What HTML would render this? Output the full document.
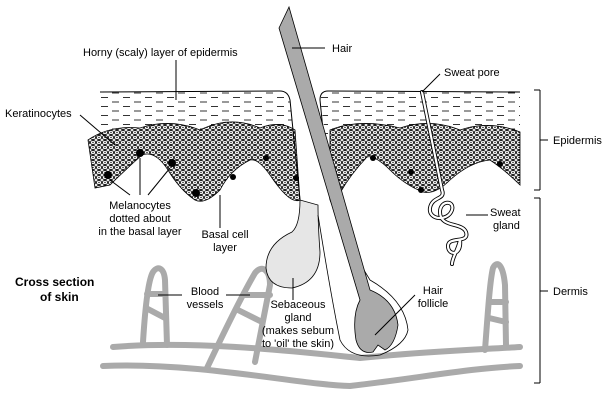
<!DOCTYPE html>
<html><head><style>
html,body{margin:0;padding:0;background:#fff}
svg{display:block}
text{font-family:"Liberation Sans",sans-serif;font-size:11px;fill:#000}
</style></head><body>
<svg width="614" height="413" viewBox="0 0 614 413">
<defs>
<pattern id="cells" width="6" height="5" patternUnits="userSpaceOnUse">
<rect width="6" height="5" fill="#fff"/>
<ellipse cx="3" cy="2.5" rx="2.6" ry="2.1" fill="none" stroke="#111" stroke-width="0.9"/>
<circle cx="3" cy="2.5" r="0.7" fill="#000"/>
</pattern>
<pattern id="dash" width="22" height="9" patternUnits="userSpaceOnUse">
<line x1="2" y1="3" x2="9" y2="3" stroke="#333" stroke-width="1"/>
<line x1="13" y1="7.5" x2="20" y2="7.5" stroke="#333" stroke-width="1"/>
</pattern>
</defs>
<!-- blood vessels -->
<g fill="none" stroke="#aaa" stroke-width="6" stroke-linecap="round" stroke-linejoin="round">
<path d="M113 347 C200 340 300 352 360 358 C420 352 470 350 520 347"/>
<path d="M103 366 C200 362 300 385 350 386 C420 378 470 368 520 366"/>
<path d="M143 342 C145 310 148 280 153 272 C158 265 164 268 165 280 L167 345"/>
<path d="M207 368 C225 330 245 290 255 273 C262 264 270 270 270 285 L255 362"/>
<path d="M485 350 C488 310 490 280 493 268 C497 260 503 264 505 285 L506 345"/>
<path d="M147 294 L165 294 M146 308 L165 318 M245 295 L270 295 M238 310 L262 322 M489 302 L506 302 M489 318 L506 322"/>
</g>
<!-- epidermis left -->
<path d="M100 92 L280 91 Q288 91 290 100 L300 200 Q290 205 270 175 Q258 158 250 160 Q230 170 220 190 Q205 205 195 200 Q180 190 168 170 Q155 150 142 155 Q125 170 110 185 L95 188 Q88 150 100 120 Z" fill="url(#dash)"/>
<path d="M95 188 L88 140 Q110 125 140 128 Q170 118 200 130 Q230 115 260 128 Q280 120 295 130 L300 200 Q290 205 270 175 Q258 158 250 160 Q230 170 220 190 Q205 205 195 200 Q180 190 168 170 Q155 150 142 155 Q125 170 110 185 Z" fill="url(#cells)" stroke="#000" stroke-width="0.8"/>
<path d="M100 92 L280 91 Q288 91 290 100 L300 200" fill="none" stroke="#000" stroke-width="1"/>
<!-- epidermis right -->
<path d="M320 98 Q320 91 328 91 L520 92 L520 185 Q505 170 490 160 Q470 162 450 180 Q435 195 423 192 Q405 185 390 170 Q375 155 367 157 Q350 175 340 193 Q332 190 330 170 Z" fill="url(#dash)"/>
<path d="M330 130 Q360 118 400 128 Q430 118 460 130 Q490 120 520 132 L520 185 Q505 170 490 160 Q470 162 450 180 Q435 195 423 192 Q405 185 390 170 Q375 155 367 157 Q350 175 340 193 Q332 190 330 170 Z" fill="url(#cells)" stroke="#000" stroke-width="0.8"/>
<path d="M330 200 L320 100 Q320 91 328 91 L520 92" fill="none" stroke="#000" stroke-width="1"/>
<g fill="#000"><circle cx="108" cy="175" r="4"/><circle cx="140" cy="153" r="4"/><circle cx="172" cy="163" r="4"/><circle cx="196" cy="193" r="4"/><circle cx="233" cy="177" r="3"/><circle cx="266" cy="158" r="3"/><circle cx="296" cy="178" r="3"/><circle cx="373" cy="158" r="3"/><circle cx="411" cy="172" r="3"/><circle cx="421" cy="190" r="3"/><circle cx="500" cy="164" r="3"/></g>
<!-- sweat duct & gland (tube) -->
<path d="M422 92 L442 190 C446 200 432 196 430 208 C428 220 448 222 452 210 C455 200 440 200 440 212 C440 228 462 222 466 232 C470 244 448 236 448 246 C448 256 462 256 460 240 C458 250 452 258 452 264" fill="none" stroke="#000" stroke-width="4" stroke-linecap="round" stroke-linejoin="round"/>
<path d="M422 92 L442 190 C446 200 432 196 430 208 C428 220 448 222 452 210 C455 200 440 200 440 212 C440 228 462 222 466 232 C470 244 448 236 448 246 C448 256 462 256 460 240 C458 250 452 258 452 264" fill="none" stroke="#fff" stroke-width="2.2" stroke-linecap="round" stroke-linejoin="round"/>
<!-- sebaceous gland -->
<path d="M300 200 Q300 225 292 232 Q266 244 266 268 Q268 288 292 288 Q320 282 320 252 Q318 225 318 205 Z" fill="#e6e6e6" stroke="#000" stroke-width="0.8"/>
<!-- follicle outline -->
<path d="M318 215 Q330 290 340 340 Q350 360 380 355 Q405 345 408 330 Q405 300 370 280 Q345 240 330 200" fill="none" stroke="#000" stroke-width="0.8"/>
<!-- hair -->
<path d="M279 28 L289 7 L370 290 Q395 300 398 325 Q395 345 385 350 L378 345 L373 352 Q360 355 356 340 Q352 315 360 300 Z" fill="#aaa" stroke="#000" stroke-width="0.8"/>
<!-- leader lines -->
<g stroke="#000" stroke-width="1" fill="none">
<line x1="292" y1="48" x2="325" y2="48"/>
<line x1="176" y1="60" x2="176" y2="100"/>
<line x1="80" y1="115" x2="115" y2="145"/>
<line x1="422" y1="92" x2="440" y2="74"/>
<line x1="130" y1="195" x2="110" y2="180"/>
<line x1="140" y1="195" x2="140" y2="158"/>
<line x1="148" y1="195" x2="170" y2="168"/>
<line x1="220" y1="228" x2="220" y2="195"/>
<line x1="466" y1="215" x2="488" y2="215"/>
<line x1="158" y1="295" x2="182" y2="295"/>
<line x1="226" y1="295" x2="250" y2="295"/>
<line x1="293" y1="278" x2="293" y2="300"/>
<line x1="375" y1="335" x2="415" y2="295"/>
<line x1="540" y1="90" x2="540" y2="190"/><line x1="534" y1="90" x2="540" y2="90"/><line x1="534" y1="190" x2="540" y2="190"/><line x1="540" y1="140" x2="548" y2="140"/>
<line x1="540" y1="198" x2="540" y2="383"/><line x1="534" y1="198" x2="540" y2="198"/><line x1="534" y1="383" x2="540" y2="383"/><line x1="540" y1="291" x2="548" y2="291"/>
</g>
<!-- labels -->
<text x="332" y="52">Hair</text>
<text x="83" y="56">Horny (scaly) layer of epidermis</text>
<text x="444" y="76">Sweat pore</text>
<text x="5" y="117">Keratinocytes</text>
<text x="553" y="144">Epidermis</text>
<text x="140" y="209" text-anchor="middle">Melanocytes</text>
<text x="140" y="222" text-anchor="middle">dotted about</text>
<text x="140" y="235" text-anchor="middle">in the basal layer</text>
<text x="225" y="238" text-anchor="middle">Basal cell</text>
<text x="225" y="251" text-anchor="middle">layer</text>
<text x="490" y="216">Sweat</text>
<text x="493" y="229">gland</text>
<text x="15" y="286" style="font-weight:bold;font-size:12px">Cross section</text>
<text x="40" y="301" style="font-weight:bold;font-size:12px">of skin</text>
<text x="205" y="295" text-anchor="middle">Blood</text>
<text x="205" y="308" text-anchor="middle">vessels</text>
<text x="298" y="308" text-anchor="middle">Sebaceous</text>
<text x="298" y="321" text-anchor="middle">gland</text>
<text x="298" y="334" text-anchor="middle">(makes sebum</text>
<text x="298" y="347" text-anchor="middle">to 'oil' the skin)</text>
<text x="433" y="294" text-anchor="middle">Hair</text>
<text x="433" y="307" text-anchor="middle">follicle</text>
<text x="553" y="295">Dermis</text>
</svg>
</body></html>
